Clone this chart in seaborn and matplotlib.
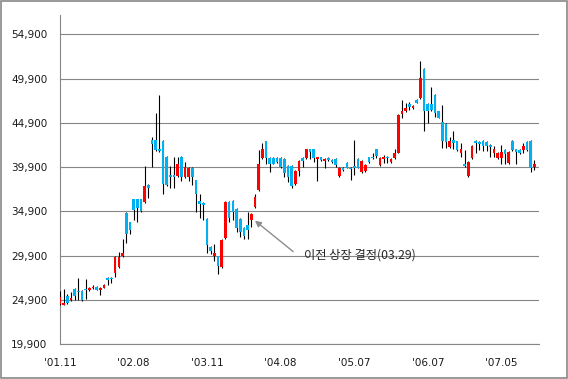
import numpy as np
import pandas as pd
import matplotlib
matplotlib.use("Agg")
import matplotlib.pyplot as plt
import seaborn as sns

# weekly-ish OHLC prices
opens = [24400, 24350, 25300, 24850, 26100, 25900, 25850, 26100, 25950, 26200,
         26400, 26050, 26250, 27350, 27350, 27950, 28550, 29800, 34700, 33650,
         36250, 36250, 36250, 35950, 37850, 42950, 42950, 42000, 42850, 41050,
         39000, 39000, 38900, 41050, 38800, 38800, 39800, 38400, 36050, 35850,
         34050, 30900, 29800, 29800, 28650, 31850, 35950, 36050, 35150, 34050,
         33050, 33300, 33900, 35400, 37300, 40900, 42800, 40900, 40900, 40900,
         40900, 40800, 40000, 40000, 37950, 39500, 40900, 40900, 41900, 41900,
         40800, 41000, 40600, 40900, 40700, 40800, 38900, 39850, 40350, 39850,
         40050, 40800, 39350, 39500, 41000, 41050, 41900, 40150, 40800, 41050,
         40450, 40900, 41550, 45900, 46200, 47050, 46550, 47500, 47700, 51050,
         47050, 47050, 48100, 46200, 45000, 44750, 42150, 42950, 42800, 41500,
         40250, 38900, 40950, 42850, 42750, 42850, 42700, 42400, 41450, 40950,
         40950, 41850, 40400, 42850, 41900, 41850, 41850, 42750, 42900, 39950]
highs = [25900, 26100, 25500, 25800, 26200, 27350, 26000, 27250, 26300, 26600,
         26500, 26350, 26650, 27450, 27450, 29800, 30250, 31800, 34800, 33750,
         36350, 36350, 36350, 40000, 37950, 43350, 46000, 48100, 42950, 41150,
         40000, 41050, 41050, 41150, 40450, 39900, 39900, 38500, 36900, 35950,
         34150, 31000, 31250, 29900, 31800, 36050, 36050, 36150, 35250, 34150,
         33150, 34800, 34750, 36900, 41850, 42600, 42900, 41000, 41000, 41000,
         41000, 40900, 40100, 40100, 39600, 40700, 41000, 42000, 42000, 42000,
         41100, 41100, 40950, 41000, 40800, 40900, 39950, 39950, 40450, 39950,
         42950, 40900, 40700, 40250, 41100, 41450, 42000, 41050, 41250, 41150,
         40900, 41900, 45900, 47500, 47200, 47300, 46950, 47600, 51850, 51150,
         47150, 48950, 48200, 46300, 46950, 44850, 43350, 44000, 42900, 42600,
         41850, 40550, 42400, 42950, 42850, 42950, 42800, 42500, 42300, 41650,
         42400, 41950, 41750, 42950, 42000, 41950, 42650, 42850, 43000, 40700]
lows = [24350, 24300, 24400, 24800, 24900, 24900, 24800, 24950, 25900, 26150,
        26000, 25450, 26200, 26600, 26850, 27450, 28450, 29700, 31300, 32350,
        33900, 33700, 34800, 35850, 36400, 39950, 41750, 41650, 36900, 37750,
        37500, 37500, 38800, 38300, 38700, 38300, 37850, 34800, 34150, 33900,
        30150, 30100, 29250, 27800, 28500, 31750, 33700, 33900, 32550, 32000,
        31800, 31800, 33100, 35300, 37200, 40800, 40250, 39350, 40200, 40400,
        39850, 38800, 38250, 37500, 37850, 38900, 39950, 40800, 40850, 40500,
        38350, 40600, 39750, 40600, 40400, 39950, 38800, 39450, 39750, 38500,
        39050, 39750, 39250, 39400, 40400, 40800, 40950, 40050, 40350, 40350,
        40350, 40800, 41450, 45450, 46100, 46400, 46450, 47100, 47600, 44000,
        44850, 46300, 45600, 45400, 42100, 42100, 42050, 41900, 41750, 41050,
        39950, 38800, 40850, 41450, 41850, 41750, 41750, 41050, 41050, 40850,
        40300, 40300, 40300, 41750, 40300, 41400, 41500, 41750, 39350, 39550]
closes = [25250, 24500, 24500, 25150, 25300, 25750, 24850, 26000, 26200, 26400,
          26050, 26250, 26550, 27100, 27200, 29700, 29700, 30150, 32350, 32750,
          35000, 35300, 34950, 37800, 37550, 42500, 41850, 41750, 38000, 37850,
          38750, 38750, 40250, 38800, 39950, 39800, 38800, 36850, 35700, 35600,
          31150, 30450, 30150, 28750, 31700, 35950, 34200, 34800, 33050, 32550,
          32150, 32800, 34650, 36500, 40300, 42000, 40900, 40300, 40300, 40500,
          39950, 39200, 38800, 37750, 39500, 40600, 40600, 41900, 41650, 40900,
          41000, 40700, 40850, 40700, 40500, 40150, 39850, 39550, 39850, 39650,
          39850, 39850, 40600, 40150, 40500, 40900, 41200, 40950, 41050, 40900,
          40800, 41550, 45800, 46250, 46550, 46650, 46850, 47200, 50000, 46200,
          46200, 46400, 46000, 45500, 42800, 42700, 42800, 42650, 41850, 41900,
          40000, 40450, 42300, 42600, 42550, 42300, 42300, 42200, 41950, 41550,
          41600, 41400, 41650, 41850, 41600, 41500, 42300, 41850, 39800, 40300]

tick_labels = ["'01.11", "'02.08", "'03.11", "'04.08", "'05.07", "'06.07", "'07.05"]
y_ticks = [19900, 24900, 29900, 34900, 39900, 44900, 49900, 54900]
note_text = "이전 상장 결정(03.29)"
note_index = 52

df = pd.DataFrame({"open": opens, "high": highs, "low": lows, "close": closes})
df["pos"] = np.arange(len(df))
df["up"] = df["close"] >= df["open"]

sns.set_theme(style="white")
plt.rcParams["font.family"] = ["DejaVu Sans"]

fig = plt.figure(figsize=(5.68, 3.79), dpi=100)
ax = fig.add_axes([60 / 568, (379 - 344) / 379, (539 - 60) / 568, (344 - 15) / 379])

# high-low lines first, bodies on top
ax.vlines(df["pos"], df["low"], df["high"], color="black", linewidth=0.8, zorder=3)
body_colors = np.where(df["up"], "#FF0000", "#00B0F0")
ax.bar(df["pos"], (df["close"] - df["open"]).abs().clip(lower=60),
       bottom=df[["open", "close"]].min(axis=1), width=0.72,
       color=body_colors, linewidth=0, zorder=4)

ax.set_xlim(0, 130.25)
ax.set_ylim(19900, 57100)
ax.set_yticks(y_ticks)
ax.set_yticklabels([f"{v:,}" for v in y_ticks])
ax.set_xticks(np.arange(0, 121, 20))
ax.set_xticklabels(tick_labels)

ax.grid(axis="y", color="#868686", linewidth=0.8)
ax.grid(axis="x", visible=False)
ax.set_axisbelow(True)
sns.despine(ax=ax, top=True, right=True)
for side in ["left", "bottom"]:
    ax.spines[side].set_color("#868686")
    ax.spines[side].set_linewidth(0.8)

ax.tick_params(axis="x", length=4, width=0.8, color="#868686", pad=6,
               labelsize=7.5, labelcolor="#1a1a1a", direction="out")
ax.tick_params(axis="y", length=0, pad=9, labelsize=7.5, labelcolor="#1a1a1a")

# annotation arrow pointing at the listing decision candle
ax.annotate("", xy=(note_index + 1.0, 33850), xytext=(63.4, 30350),
            arrowprops=dict(arrowstyle="-|>", color="#8c8c8c", lw=1.0,
                            mutation_scale=9, shrinkA=0, shrinkB=0))
ax.text(66.3, 29950, note_text, ha="left", va="center", fontsize=8.8,
        color="#262626", family=["Noto Sans CJK KR", "DejaVu Sans"])

# outer chart frame
fig.add_artist(plt.Rectangle((0.6 / 568, 1.5 / 379), 566 / 568, 376.5 / 379,
                             transform=fig.transFigure, fill=False,
                             edgecolor="#888888", linewidth=1.2))

fig.savefig("out.png", dpi=100)
